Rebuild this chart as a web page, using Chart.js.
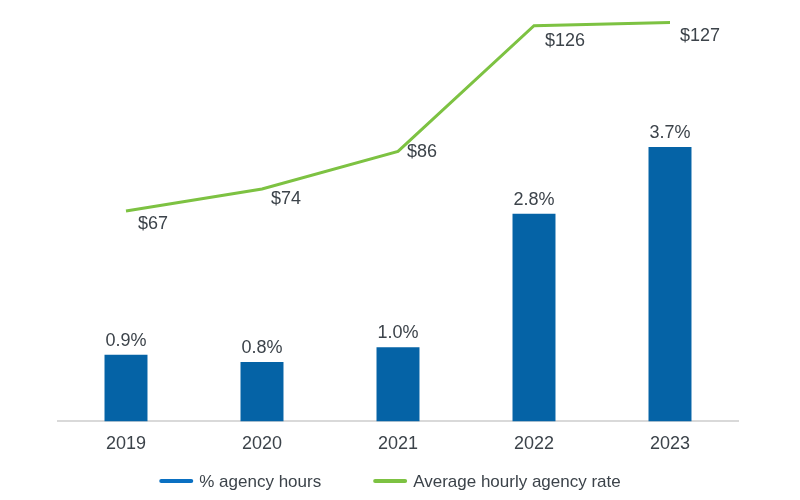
<!DOCTYPE html>
<html>
<head>
<meta charset="utf-8">
<script src="https://cdn.jsdelivr.net/npm/chart.js@4.4.1/dist/chart.umd.min.js"></script>
<style>
  html, body { margin: 0; padding: 0; background: #fff; }
  #wrap { width: 800px; height: 500px; }
</style>
</head>
<body>
<div id="wrap"><canvas id="chart" width="800" height="500"></canvas></div>
<script>
try {

// chart data
var years = ['2019', '2020', '2021', '2022', '2023'];
var agencyHours = [0.9, 0.8, 1.0, 2.8, 3.7];
var hourlyRate = [67, 74, 86, 126, 127];
var hoursLabel = '% agency hours';
var rateLabel = 'Average hourly agency rate';

var textColor = '#3c434a';
var fontFamily = '"Liberation Sans", Arial, sans-serif';

// value labels above bars and next to the line points
var valueLabels = {
  id: 'valueLabels',
  afterDatasetsDraw: function(chart, args, opts) {
    var ctx = chart.ctx;
    ctx.save();
    ctx.fillStyle = textColor;
    ctx.font = '18px ' + fontFamily;
    ctx.textAlign = 'center';

    // bars
    chart.getDatasetMeta(1).data.forEach(function(bar, i) {
      ctx.textBaseline = 'alphabetic';
      ctx.fillText(agencyHours[i].toFixed(1) + '%', bar.x, bar.y - 9);
    });

    // line points
    chart.getDatasetMeta(0).data.forEach(function(pt, i) {
      var off = opts.lineOffsets[i] || [26, 12];
      ctx.textBaseline = 'middle';
      ctx.fillText('$' + hourlyRate[i], pt.x + off[0], pt.y + off[1]);
    });
    ctx.restore();
  }
};

// legend drawn as short lines + labels under the axis
var lineLegend = {
  id: 'lineLegend',
  afterDraw: function(chart, args, opts) {
    var ctx = chart.ctx;
    ctx.save();
    ctx.font = '17px ' + fontFamily;
    var items = [
      { text: hoursLabel, color: opts.colors[0] },
      { text: rateLabel, color: opts.colors[1] }
    ];
    var total = 0;
    items.forEach(function(it, i) {
      it.w = ctx.measureText(it.text).width;
      total += opts.boxWidth + opts.boxGap + it.w + (i ? opts.itemGap : 0);
    });
    var x = opts.centerX - total / 2;
    var y = opts.y;
    items.forEach(function(it) {
      ctx.strokeStyle = it.color;
      ctx.lineWidth = 4;
      ctx.lineCap = 'round';
      ctx.beginPath();
      ctx.moveTo(x + 2, y);
      ctx.lineTo(x + opts.boxWidth - 2, y);
      ctx.stroke();
      ctx.fillStyle = textColor;
      ctx.textAlign = 'left';
      ctx.textBaseline = 'middle';
      ctx.fillText(it.text, x + opts.boxWidth + opts.boxGap, y + 1);
      x += opts.boxWidth + opts.boxGap + it.w + opts.itemGap;
    });
    ctx.restore();
  }
};

var data = {
  labels: years,
  datasets: [
    {
      type: 'line',
      label: rateLabel,
      data: hourlyRate,
      borderColor: '#7dc242',
      borderWidth: 3,
      pointRadius: 0,
      tension: 0,
      yAxisID: 'yRate',
      order: 0
    },
    {
      type: 'bar',
      label: hoursLabel,
      data: agencyHours,
      backgroundColor: '#0563a6',
      barPercentage: 0.316,
      categoryPercentage: 1,
      yAxisID: 'yHours',
      order: 1
    }
  ]
};

var options = {
  responsive: false,
  animation: false,
  layout: { padding: { left: 58, right: 62, top: 21, bottom: 41 } },
  scales: {
    x: {
      grid: { display: false },
      border: { display: true, color: '#d9d9d9', width: 2 },
      ticks: { color: textColor, font: { size: 18, family: fontFamily }, padding: 4 }
    },
    yHours: { display: false, min: 0, max: 5.4 },
    yRate: { display: false, min: 0, max: 127.5 }
  },
  plugins: {
    legend: { display: false },
    tooltip: { enabled: false },
    valueLabels: {
      lineOffsets: [[27, 13], [24, 10], [24, 1], [31, 15], [30, 13]]
    },
    lineLegend: {
      colors: ['#0a70c2', '#7dc242'],
      boxWidth: 34, boxGap: 6, itemGap: 52,
      centerX: 390, y: 481
    }
  }
};

new Chart(document.getElementById('chart'), {
  type: 'bar',
  data: data,
  options: options,
  plugins: [valueLabels, lineLegend]
});

} catch (err) {
  console.error(err);
}
</script>
</body>
</html>
